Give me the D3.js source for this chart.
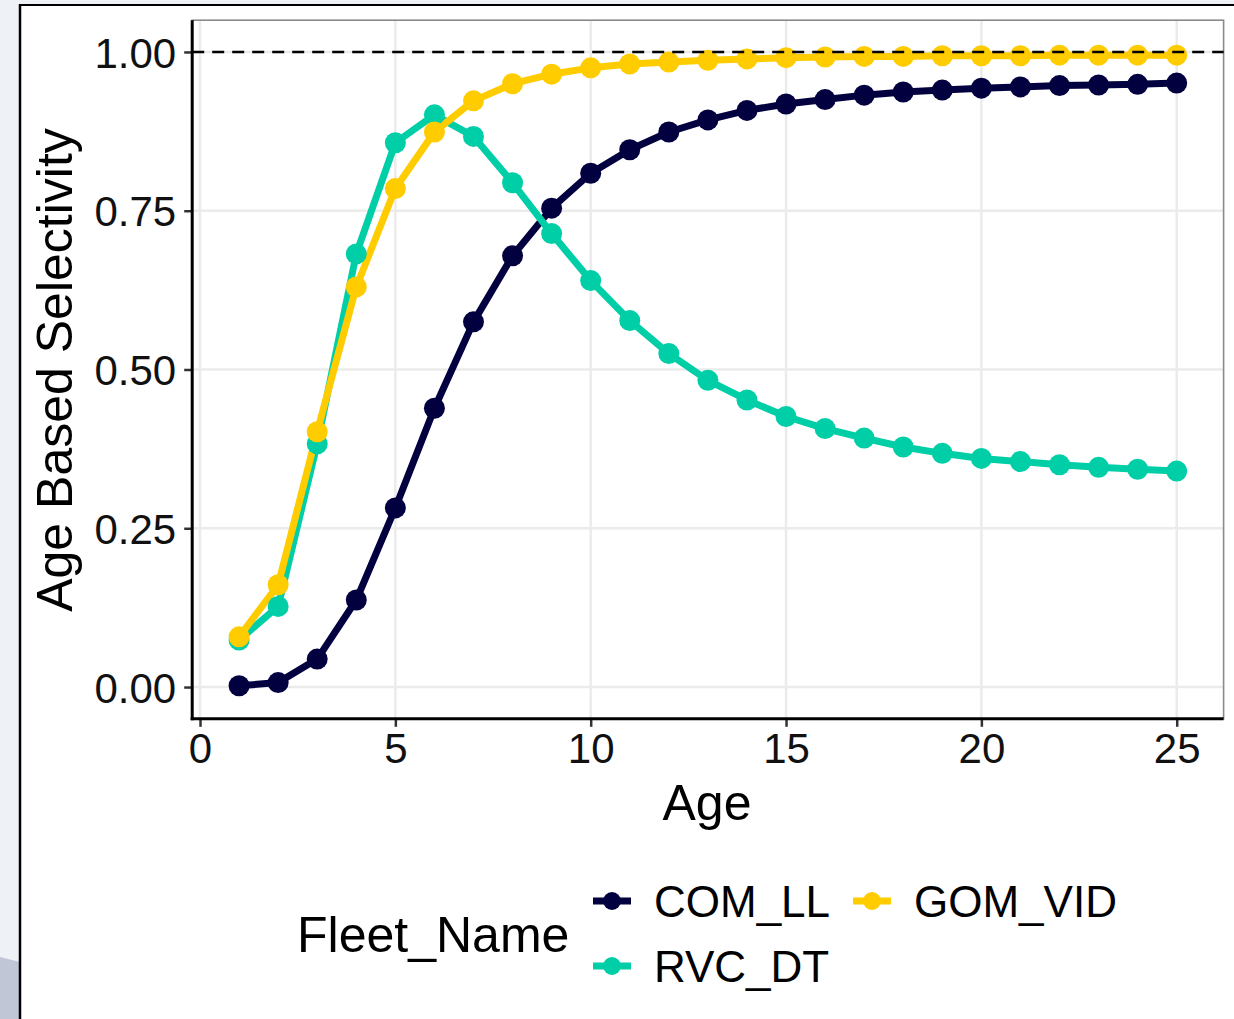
<!DOCTYPE html>
<html><head><meta charset="utf-8">
<script src="https://cdn.jsdelivr.net/npm/d3@7"></script>
<style>html,body{margin:0;padding:0;background:#fff;}svg{display:block;}</style>
</head><body>
<script>
const ages = d3.range(1, 26);
const fleets = ["COM_LL", "RVC_DT", "GOM_VID"];
const fleetColors = ["#03003f", "#00cea7", "#ffcc00"];
const COM_LL = [0.002,0.007,0.044,0.137,0.282,0.439,0.575,0.679,0.754,0.809,0.846,0.874,0.893,0.908,0.918,0.925,0.932,0.937,0.940,0.943,0.945,0.947,0.948,0.949,0.951];
const RVC_DT = [0.074,0.127,0.383,0.682,0.857,0.901,0.867,0.794,0.714,0.640,0.577,0.525,0.483,0.452,0.426,0.407,0.392,0.378,0.368,0.360,0.355,0.350,0.346,0.343,0.340];
const GOM_VID = [0.079,0.161,0.402,0.630,0.785,0.874,0.923,0.950,0.965,0.975,0.981,0.984,0.987,0.989,0.991,0.992,0.993,0.993,0.994,0.994,0.994,0.995,0.995,0.995,0.995];
const seriesValues = [COM_LL, RVC_DT, GOM_VID];
const xTicks = [0, 5, 10, 15, 20, 25];
const yTicks = [0, 0.25, 0.5, 0.75, 1.0];
const refLine = 1.0;

const W = 1234, H = 1019;
const svg = d3.select("body").append("svg").attr("width", W).attr("height", H);
const FONT = "Liberation Sans, Arial, sans-serif";

// outer frame decorations
svg.append("rect").attr("x",0).attr("y",0).attr("width",W).attr("height",4).attr("fill","#eef1f5");
svg.append("rect").attr("x",0).attr("y",0).attr("width",20).attr("height",H).attr("fill","#eef1f5");
svg.append("path").attr("d","M0,957 L20,962 L20,1019 L0,1019 Z").attr("fill","#c1c6d6");
svg.append("line").attr("x1",19).attr("x2",W).attr("y1",5).attr("y2",5).attr("stroke","#000").attr("stroke-width",2);
svg.append("line").attr("x1",20).attr("x2",20).attr("y1",4).attr("y2",H).attr("stroke","#000").attr("stroke-width",2.5);

const x = d3.scaleLinear().domain([-0.2, 26.2]).range([192.2, 1223.6]);
const y = d3.scaleLinear().domain([-0.05, 1.05]).range([718.8, 20.2]);
const [px0, px1] = x.range();
const [py0, py1] = y.range();

const g = svg.append("g");
// grid
g.selectAll(".gx").data(xTicks).join("line")
  .attr("x1", d=>x(d)).attr("x2", d=>x(d)).attr("y1", py1).attr("y2", py0)
  .attr("stroke","#ebebeb").attr("stroke-width",2.5);
g.selectAll(".gy").data(yTicks).join("line")
  .attr("x1", px0).attr("x2", px1).attr("y1", d=>y(d)).attr("y2", d=>y(d))
  .attr("stroke","#ebebeb").attr("stroke-width",2.5);
// panel border (top/right gray)
g.append("rect").attr("x",px0).attr("y",py1).attr("width",px1-px0).attr("height",py0-py1)
  .attr("fill","none").attr("stroke","#8a8a8a").attr("stroke-width",1.6);

const line = d3.line().x((d,i)=>x(ages[i])).y(d=>y(d));
seriesValues.forEach((vals, k) => {
  g.append("path").attr("d", line(vals)).attr("fill","none")
    .attr("stroke", fleetColors[k]).attr("stroke-width", 7).attr("stroke-linejoin","round");
});
seriesValues.forEach((vals, k) => {
  g.selectAll(null).data(vals).join("circle")
    .attr("cx", (d,i)=>x(ages[i])).attr("cy", d=>y(d)).attr("r", 10.5)
    .attr("fill", fleetColors[k]);
});
// reference line
g.append("line").attr("x1",px0).attr("x2",px1).attr("y1",y(refLine)).attr("y2",y(refLine))
  .attr("stroke","#000").attr("stroke-width",2.5).attr("stroke-dasharray","12,8");

// axes
const xAxis = d3.axisBottom(x).tickValues(xTicks).tickSize(8).tickPadding(6).tickFormat(d3.format("d"));
const yAxis = d3.axisLeft(y).tickValues(yTicks).tickSize(8).tickPadding(8).tickFormat(d3.format(".2f"));
const gx = svg.append("g").attr("transform",`translate(0,${py0})`).call(xAxis);
const gy = svg.append("g").attr("transform",`translate(${px0},0)`).call(yAxis);
[gx, gy].forEach(a => {
  a.select(".domain").remove();
  a.selectAll(".tick line").attr("stroke","#333").attr("stroke-width",2.5);
  a.selectAll(".tick text").attr("fill","#111").style("font-family",FONT).style("font-size","42px");
});
gy.selectAll(".tick text").attr("dy","0.36em");
gx.selectAll(".tick text").attr("dy","0.72em");
svg.append("line").attr("x1",px0).attr("x2",px0).attr("y1",py1).attr("y2",py0+1.5).attr("stroke","#000").attr("stroke-width",3);
svg.append("line").attr("x1",px0-1.5).attr("x2",px1).attr("y1",py0).attr("y2",py0).attr("stroke","#000").attr("stroke-width",3);

// axis titles
svg.append("text").attr("x",707).attr("y",820).attr("text-anchor","middle")
  .style("font-family",FONT).style("font-size","50px").attr("fill","#000").text("Age");
svg.append("text").attr("transform","translate(72,370) rotate(-90)").attr("text-anchor","middle")
  .style("font-family",FONT).style("font-size","50px").attr("fill","#000").text("Age Based Selectivity");

// legend
svg.append("text").attr("x",297).attr("y",952).style("font-family",FONT).style("font-size","50px")
  .attr("fill","#000").text("Fleet_Name");
const legendPos = [[612, 901], [612, 966], [872, 901]];
fleets.forEach((f, k) => {
  const [cx, cy] = legendPos[k];
  svg.append("line").attr("x1",cx-19).attr("x2",cx+19).attr("y1",cy).attr("y2",cy)
    .attr("stroke",fleetColors[k]).attr("stroke-width",7);
  svg.append("circle").attr("cx",cx).attr("cy",cy).attr("r",9).attr("fill",fleetColors[k]);
  svg.append("text").attr("x",cx+42).attr("y",cy+16).style("font-family",FONT).style("font-size","44px")
    .attr("fill","#000").text(f);
});
</script>
</body></html>
